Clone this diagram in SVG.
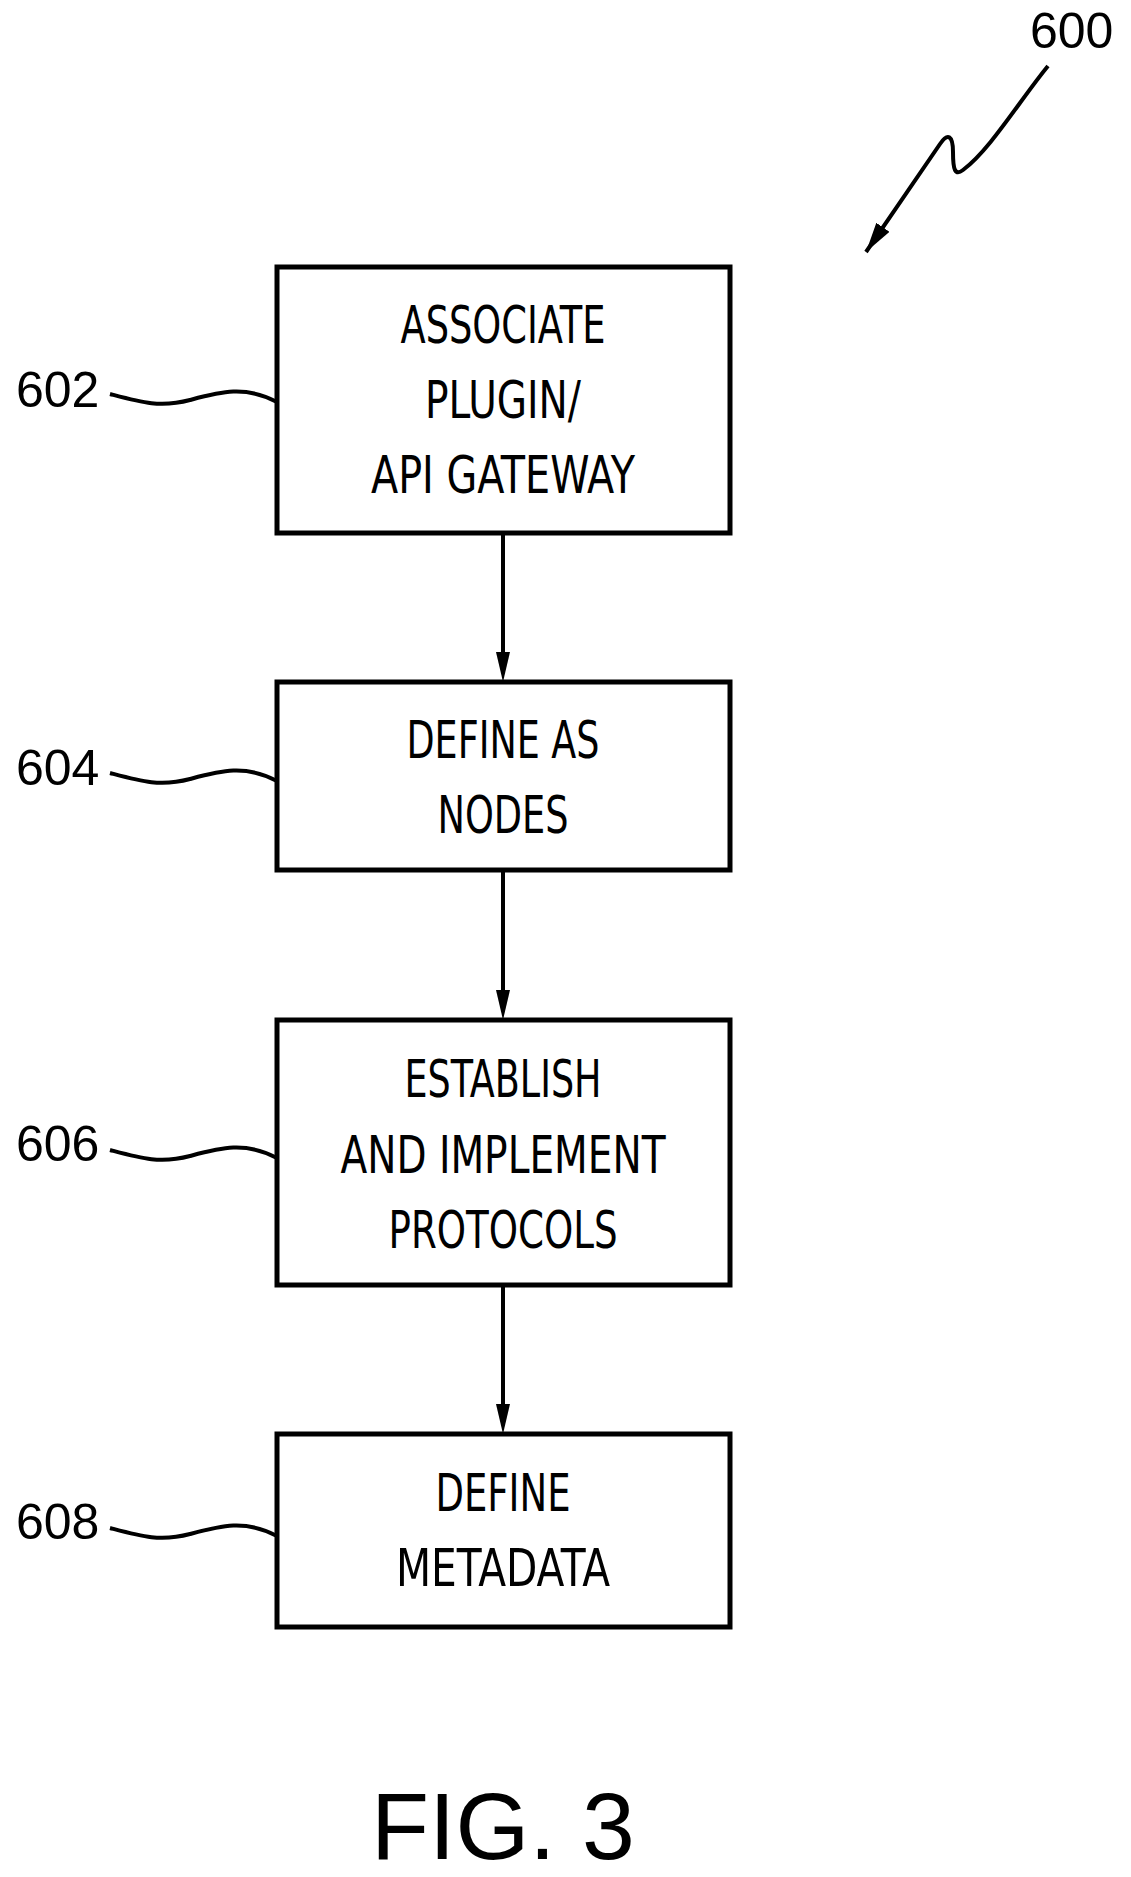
<svg xmlns="http://www.w3.org/2000/svg" width="1131" height="1877" viewBox="0 0 1131 1877">
<style>
.box{fill:#fff;stroke:#000;stroke-width:5}
.t{font-family:"Liberation Sans Narrow","DejaVu Sans Condensed","Liberation Sans",sans-serif;font-size:52px;text-anchor:middle}
.n{font-family:"Liberation Sans",sans-serif;font-size:50px}
.ln{fill:none;stroke:#000;stroke-width:4}
</style>
<defs>
<marker id="ah2" markerWidth="30" markerHeight="16" refX="30" refY="8" orient="auto" markerUnits="userSpaceOnUse"><path d="M0,0 L30,8 L0,16 Z" fill="#000"/></marker></defs>
<g id="connectors">
<line class="ln" x1="503" y1="533" x2="503" y2="660"/><path d="M496,652 L510,652 L503,682 Z"/>
<line class="ln" x1="503" y1="870" x2="503" y2="998"/><path d="M496,990 L510,990 L503,1020 Z"/>
<line class="ln" x1="503" y1="1285" x2="503" y2="1412"/><path d="M496,1404 L510,1404 L503,1434 Z"/>
<path class="ln" d="M110,394 C140,402 160,408 190,400 S245,385 277,402"/>
<path class="ln" d="M110,773 C140,781 160,787 190,779 S245,764 277,781"/>
<path class="ln" d="M110,1150 C140,1158 160,1164 190,1156 S245,1141 277,1158"/>
<path class="ln" d="M110,1528 C140,1536 160,1542 190,1534 S245,1519 277,1536"/>
<path class="ln" d="M1048,66 C1020,100 990,150 963,170 C955,176 953,170 953,152 C953,136 948,132 940,144 L866,252" marker-end="url(#ah2)"/>
</g>
<g id="n602"><rect class="box" x="277" y="267" width="453" height="266"/>
<text class="t" x="503" y="343" textLength="205" lengthAdjust="spacingAndGlyphs">ASSOCIATE</text>
<text class="t" x="503" y="418" textLength="156" lengthAdjust="spacingAndGlyphs">PLUGIN/</text>
<text class="t" x="503" y="493" textLength="264" lengthAdjust="spacingAndGlyphs">API GATEWAY</text>
<text class="n" x="16" y="407">602</text></g>
<g id="n604"><rect class="box" x="277" y="682" width="453" height="188"/>
<text class="t" x="503" y="758" textLength="193" lengthAdjust="spacingAndGlyphs">DEFINE AS</text>
<text class="t" x="503" y="833" textLength="131" lengthAdjust="spacingAndGlyphs">NODES</text>
<text class="n" x="16" y="785">604</text></g>
<g id="n606"><rect class="box" x="277" y="1020" width="453" height="265"/>
<text class="t" x="503" y="1097" textLength="197" lengthAdjust="spacingAndGlyphs">ESTABLISH</text>
<text class="t" x="503" y="1173" textLength="325" lengthAdjust="spacingAndGlyphs">AND IMPLEMENT</text>
<text class="t" x="503" y="1248" textLength="229" lengthAdjust="spacingAndGlyphs">PROTOCOLS</text>
<text class="n" x="16" y="1161">606</text></g>
<g id="n608"><rect class="box" x="277" y="1434" width="453" height="193"/>
<text class="t" x="503" y="1511" textLength="135" lengthAdjust="spacingAndGlyphs">DEFINE</text>
<text class="t" x="503" y="1586" textLength="214" lengthAdjust="spacingAndGlyphs">METADATA</text>
<text class="n" x="16" y="1539">608</text></g>
<g id="label600"><text class="n" x="1030" y="48">600</text></g>
<text x="503" y="1859" font-family="'Liberation Sans',sans-serif" font-size="95" text-anchor="middle">FIG. 3</text>
</svg>
